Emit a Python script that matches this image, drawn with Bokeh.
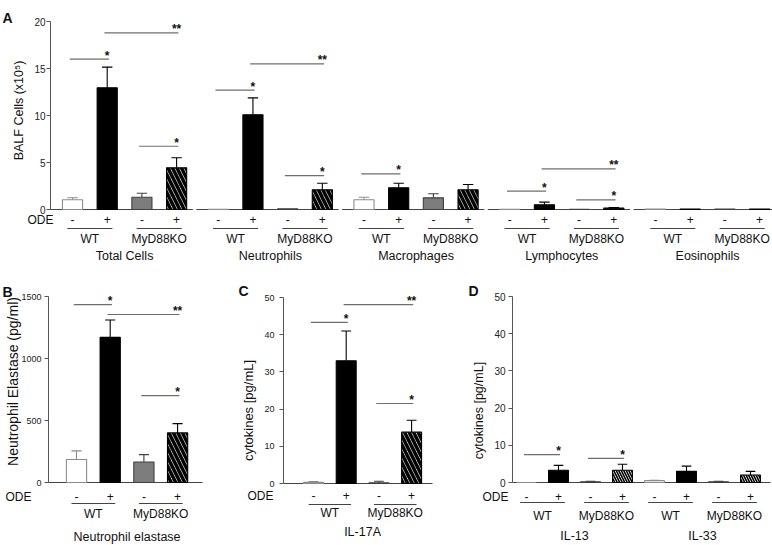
import numpy as np
from bokeh.plotting import figure
from bokeh.layouts import row, column
from bokeh.models import Range1d, FixedTicker
from bokeh.core.properties import value
from bokeh.embed import file_html
from bokeh.resources import INLINE

FONT = "Liberation Sans"

# ---------------- data ----------------
ode_marks = ["-", "+", "-", "+"]
genotypes = ["WT", "MyD88KO"]

# Panel A: BALF cells (x10^5); order per group: WT-, WT+, KO-, KO+
a_cells = ["Total Cells", "Neutrophils", "Macrophages", "Lymphocytes", "Eosinophils"]
a_means = [[1.03, 12.95, 1.31, 4.43],
           [0.03, 10.07, 0.08, 2.09],
           [1.03, 2.31, 1.24, 2.10],
           [0.03, 0.50, 0.03, 0.15],
           [0.04, 0.04, 0.04, 0.04]]
a_sems = [[0.22, 2.20, 0.42, 1.07],
          [0.00, 1.80, 0.00, 0.70],
          [0.28, 0.49, 0.43, 0.56],
          [0.00, 0.28, 0.00, 0.06],
          [0.00, 0.00, 0.00, 0.00]]
# (group, from bar, to bar, height, label)
a_sig = [(0, 0, 1, 16.0, "*"), (0, 1, 3, 18.8, "**"), (0, 2, 3, 6.73, "*"),
         (1, 0, 1, 12.7, "*"), (1, 1, 3, 15.5, "**"), (1, 2, 3, 3.6, "*"),
         (2, 0, 1, 3.8, "*"),
         (3, 0, 1, 1.95, "*"), (3, 1, 3, 4.33, "**"), (3, 2, 3, 1.03, "*")]
a_yticks = [0, 5, 10, 15, 20]

# Panel B: neutrophil elastase (pg/ml)
b_groups = ["Neutrophil elastase"]
b_means = [[185, 1170, 165, 400]]
b_sems = [[70, 140, 60, 75]]
b_sig = [(0, 0, 1, 1435, "*"), (0, 1, 3, 1355, "**"), (0, 2, 3, 700, "*")]
b_yticks = [0, 500, 1000, 1500]

# Panel C: IL-17A (pg/mL)
c_groups = ["IL-17A"]
c_means = [[0.3, 33.0, 0.2, 13.8]]
c_sems = [[0.2, 8.0, 0.4, 3.2]]
c_sig = [(0, 0, 1, 43.3, "*"), (0, 1, 3, 48.1, "**"), (0, 2, 3, 21.5, "*")]
c_yticks = [0, 10, 20, 30, 40, 50]

# Panel D: IL-13 / IL-33 (pg/mL)
d_groups = ["IL-13", "IL-33"]
d_means = [[0.0, 3.3, 0.2, 3.3],
           [0.5, 3.0, 0.2, 2.0]]
d_sems = [[0.0, 1.3, 0.1, 1.6],
          [0.1, 1.4, 0.1, 1.0]]
d_sig = [(0, 0, 1, 7.5, "*"), (0, 2, 3, 6.5, "*")]
d_yticks = [0, 10, 20, 30, 40, 50]

# ---------------- styles ----------------
FILL = ["white", "black", "#7d7d7d", "white"]
EDGE = ["#8c8c8c", "black", "#404040", "black"]
HATCHED = [False, False, False, True]
TXT = "#111111"
SIGC = "#6e6e6e"


def txt(p, x, y, s, size="12px", align="center", baseline="middle", bold=False, angle=0.0):
    p.text(x=[x], y=[y], text=[s], text_font=value(FONT), text_font_size=value(size),
           text_align=align, text_baseline=baseline, angle=angle,
           text_font_style="bold" if bold else "normal", text_color=TXT)


def panel(W, H, axis_px, x0px, ppx, y0px, ppy, yticks, tick_font, standoff):
    xs0 = (0 - x0px) / ppx
    xs1 = (W - x0px) / ppx
    ys1 = (y0px - 0) / ppy
    ys0 = (y0px - H) / ppy
    p = figure(width=W, height=H, x_range=Range1d(xs0, xs1), y_range=Range1d(ys0, ys1),
               output_backend="svg", toolbar_location=None,
               min_border_left=0, min_border_right=0, min_border_top=0, min_border_bottom=0)
    p.xaxis.visible = False
    p.xgrid.visible = False
    p.ygrid.visible = False
    p.outline_line_color = None

    def X(px):
        return (px - x0px) / ppx

    def Y(py):
        return (y0px - py) / ppy

    ax = p.yaxis[0]
    ax.fixed_location = X(axis_px)
    ax.bounds = (yticks[0], yticks[-1])
    ax.ticker = FixedTicker(ticks=yticks)
    ax.minor_tick_line_color = None
    ax.major_tick_in = 0
    ax.major_tick_out = 4
    ax.major_label_standoff = standoff
    ax.major_label_text_font = FONT
    ax.major_label_text_font_size = tick_font
    ax.major_label_text_color = "#222222"
    ax.axis_line_color = "#555555"
    ax.major_tick_line_color = "#555555"
    return p, X, Y


def draw_group_bars(p, pitch, means, sems, width, cap, hscale, hweight):
    for c in range(4):
        xs = [g * pitch + c for g in range(len(means))]
        tops = [m[c] for m in means]
        errs = [s[c] for s in sems]
        ex = [x for x, e in zip(xs, errs) if e > 0]
        et = [t for t, e in zip(tops, errs) if e > 0]
        eu = [t + e for t, e in zip(tops, errs) if e > 0]
        if ex:
            p.segment(x0=ex, y0=et, x1=ex, y1=eu, line_color=EDGE[c], line_width=1.1)
            p.segment(x0=[x - cap / 2 for x in ex], y0=eu, x1=[x + cap / 2 for x in ex], y1=eu,
                      line_color=EDGE[c], line_width=1.1)
        kw = dict(fill_color=FILL[c], line_color=EDGE[c], line_width=1.1)
        if HATCHED[c]:
            kw.update(hatch_pattern="left_diagonal_line", hatch_color="black",
                      hatch_scale=hscale, hatch_weight=hweight)
        p.vbar(x=xs, top=tops, bottom=0, width=width, **kw)


def draw_sig(p, pitch, sig, ppy):
    for g, a, b, h, s in sig:
        x0 = g * pitch + a - 0.08
        x1 = g * pitch + b + 0.05
        p.segment(x0=[x0], y0=[h], x1=[x1], y1=[h], line_color=SIGC, line_width=1.2)
        txt(p, g * pitch + b, h + 3.5 / ppy, s, size="12px", baseline="alphabetic", bold=True)


def draw_xlabels(p, pitch, groups, Y, y_pm, y_line, y_geno, y_group, half=0.65, gsize="12.5px"):
    for g, name in enumerate(groups):
        base = g * pitch
        for c in range(4):
            txt(p, base + c, Y(y_pm), ode_marks[c], size="12px")
        for k in range(2):
            cx = base + 2 * k + 0.5
            p.segment(x0=[cx - half], y0=[Y(y_line)], x1=[cx + half], y1=[Y(y_line)],
                      line_color="#444444", line_width=1)
            txt(p, cx, Y(y_geno), genotypes[k], size="12px")
        txt(p, base + 1.5, Y(y_group), name, size=gsize)


# ---------------- Panel A ----------------
ppy_a = 9.4
pA, XA, YA = panel(772, 272, 50, 72, 34.7, 209, ppy_a, a_yticks, "10px", 1)
pitch_a = 4.2
for g in range(len(a_cells)):
    x0 = g * pitch_a - 0.63 if g > 0 else XA(50)
    pA.segment(x0=[x0], y0=[0], x1=[g * pitch_a + 3.47], y1=[0], line_color="#444444", line_width=1.2)
draw_group_bars(pA, pitch_a, a_means, a_sems, 0.58, 0.3, 9, 3.5)
draw_sig(pA, pitch_a, a_sig, ppy_a)
draw_xlabels(pA, pitch_a, a_cells, YA, 219, 228, 238, 255)
txt(pA, XA(53), YA(219), "ODE", size="12px", align="right")
txt(pA, XA(18), YA(110), "BALF Cells (x10\u2075)", size="12.5px", angle=np.pi / 2)
txt(pA, XA(2), YA(17), "A", size="14px", align="left", baseline="alphabetic", bold=True)

# ---------------- Panel B ----------------
ppy_b = 186 / 1500
pB, XB, YB = panel(236, 273, 48, 76, 33.7, 210, ppy_b, b_yticks, "9px", 3)
pB.segment(x0=[XB(48)], y0=[0], x1=[3.74], y1=[0], line_color="#444444", line_width=1.2)
draw_group_bars(pB, 4, b_means, b_sems, 0.6, 0.3, 9, 3.5)
draw_sig(pB, 4, b_sig, ppy_b)
draw_xlabels(pB, 4, b_groups, YB, 224, 231, 241.5, 264)
txt(pB, XB(31), YB(224), "ODE", size="12px", align="right")
txt(pB, XB(12), YB(109), "Neutrophil Elastase (pg/ml)", size="14px", angle=np.pi / 2)
txt(pB, XB(2), YB(19), "B", size="14px", align="left", baseline="alphabetic", bold=True)

# ---------------- Panel C ----------------
ppy_c = 186 / 50
pC, XC, YC = panel(204, 273, 47, 77, 32.7, 211, ppy_c, c_yticks, "9px", 5)
pC.segment(x0=[XC(47)], y0=[0], x1=[3.64], y1=[0], line_color="#444444", line_width=1.2)
draw_group_bars(pC, 4, c_means, c_sems, 0.61, 0.3, 9, 3.5)
draw_sig(pC, 4, c_sig, ppy_c)
draw_xlabels(pC, 4, c_groups, YC, 223, 232, 240.5, 259)
txt(pC, XC(37), YC(223), "ODE", size="12px", align="right")
txt(pC, XC(12), YC(138), "cytokines [pg/mL]", size="13px", angle=np.pi / 2)
txt(pC, XC(2), YC(18), "C", size="14px", align="left", baseline="alphabetic", bold=True)

# ---------------- Panel D ----------------
ppy_d = 186 / 50
pD, XD, YD = panel(332, 273, 72, 86, 32.0, 210, ppy_d, d_yticks, "10px", 3)
pD.segment(x0=[XD(72)], y0=[0], x1=[7.625], y1=[0], line_color="#444444", line_width=1.2)
draw_group_bars(pD, 4, d_means, d_sems, 0.62, 0.3, 5, 1.6)
draw_sig(pD, 4, d_sig, ppy_d)
draw_xlabels(pD, 4, d_groups, YD, 224, 230, 243, 263, half=0.7)
txt(pD, XD(68), YD(224), "ODE", size="12px", align="right")
txt(pD, XD(38), YD(138), "cytokines [pg/mL]", size="12.5px", angle=np.pi / 2)
txt(pD, XD(28), YD(18), "D", size="14px", align="left", baseline="alphabetic", bold=True)

root = column(pA, row(pB, pC, pD, spacing=0), spacing=0)

with open("out.html", "w") as f:
    f.write(file_html(root, INLINE))
